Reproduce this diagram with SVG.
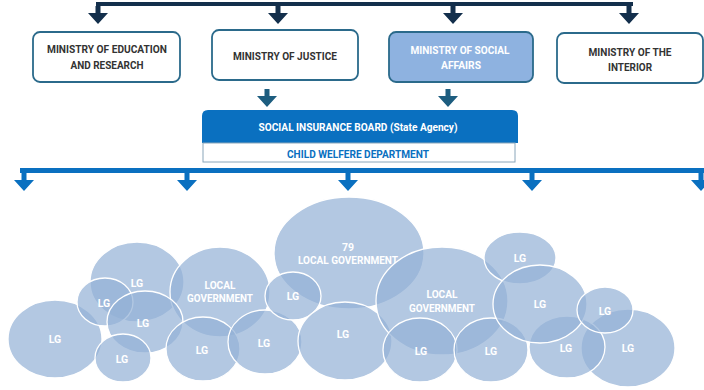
<svg xmlns="http://www.w3.org/2000/svg" width="704" height="390" viewBox="0 0 704 390">
<style>
.box{fill:#fff;stroke:#2b6a8b;stroke-width:1.8}
.boxf{fill:#8eb2e0;stroke:#2b6a8b;stroke-width:1.8}
.t{font-family:Roboto,"Liberation Sans",sans-serif;font-weight:bold;font-size:10.5px;text-anchor:middle;fill:#333}
.tw{fill:#fff}
.tb{fill:#0a70bf}
.lg{fill:#94b2d6;fill-opacity:0.71;stroke:#fff;stroke-width:1.3}
.navy{fill:#132f4c}
.teal{fill:#1d5d7f}
.blue{fill:#0a70c0}
</style>
<defs>
<path id="arr" d="M-2.5,0 H2.5 V7 H10 L0,18 L-10,7 H-2.5 Z"/>
</defs>
<g id="connectors">
<rect class="navy" x="96" y="2" width="537" height="4"/>
<use href="#arr" class="navy" x="98" y="6"/>
<use href="#arr" class="navy" x="278" y="6"/>
<use href="#arr" class="navy" x="453" y="6"/>
<use href="#arr" class="navy" x="629" y="6"/>
<use href="#arr" class="teal" x="267" y="89"/>
<use href="#arr" class="teal" x="448" y="89"/>
<rect class="blue" x="20" y="168" width="684" height="5"/>
<use href="#arr" class="blue" x="24" y="173"/>
<use href="#arr" class="blue" x="187" y="173"/>
<use href="#arr" class="blue" x="348" y="173"/>
<use href="#arr" class="blue" x="532" y="173"/>
<use href="#arr" class="blue" x="701" y="173"/>
</g>
<g id="ministry-education">
<rect class="box" x="33" y="32" width="147" height="50" rx="7"/>
<text class="t" x="107" y="53" textLength="120" lengthAdjust="spacingAndGlyphs">MINISTRY OF EDUCATION</text>
<text class="t" x="107" y="69" textLength="73" lengthAdjust="spacingAndGlyphs">AND RESEARCH</text>
</g>
<g id="ministry-justice">
<rect class="box" x="212" y="30" width="146" height="50" rx="7"/>
<text class="t" x="285" y="60" textLength="104" lengthAdjust="spacingAndGlyphs">MINISTRY OF JUSTICE</text>
</g>
<g id="ministry-social">
<rect class="boxf" x="389" y="32" width="144" height="50" rx="7"/>
<text class="t tw" x="460" y="54" textLength="99" lengthAdjust="spacingAndGlyphs">MINISTRY OF SOCIAL</text>
<text class="t tw" x="461" y="69" textLength="40" lengthAdjust="spacingAndGlyphs">AFFAIRS</text>
</g>
<g id="ministry-interior">
<rect class="box" x="557" y="33" width="146" height="50" rx="7"/>
<text class="t" x="630" y="56" textLength="83" lengthAdjust="spacingAndGlyphs">MINISTRY OF THE</text>
<text class="t" x="630" y="71" textLength="44" lengthAdjust="spacingAndGlyphs">INTERIOR</text>
</g>
<g id="social-insurance-board">
<path class="blue" d="M202,143 V116 Q202,110 208,110 H512 Q518,110 518,116 V143 Z"/>
<text class="t tw" x="358" y="131" textLength="199" lengthAdjust="spacingAndGlyphs">SOCIAL INSURANCE BOARD (State Agency)</text>
</g>
<g id="child-welfare">
<rect x="203" y="143" width="312" height="19" fill="#fff" stroke="#8aa6ba" stroke-width="1"/>
<text class="t tb" x="358" y="158" textLength="142" lengthAdjust="spacingAndGlyphs">CHILD WELFERE DEPARTMENT</text>
</g>
<g id="lg1"><ellipse class="lg" cx="55" cy="339" rx="47" ry="39"/><text class="t tw" x="55" y="343">LG</text></g>
<g id="lg2"><ellipse class="lg" cx="137" cy="282" rx="47" ry="40"/><text class="t tw" x="137" y="287">LG</text></g>
<g id="local-gov-1"><ellipse class="lg" cx="220" cy="292" rx="50" ry="45"/><text class="t tw" x="220" y="289" textLength="31" lengthAdjust="spacingAndGlyphs">LOCAL</text><text class="t tw" x="220" y="302" textLength="66" lengthAdjust="spacingAndGlyphs">GOVERNMENT</text></g>
<g id="local-gov-79"><ellipse class="lg" cx="349" cy="253" rx="75" ry="56"/><text class="t tw" x="348" y="251">79</text><text class="t tw" x="348" y="264" textLength="100" lengthAdjust="spacingAndGlyphs">LOCAL GOVERNMENT</text></g>
<g id="lg3"><ellipse class="lg" cx="105" cy="302" rx="28" ry="24"/><text class="t tw" x="104" y="307">LG</text></g>
<g id="lg4"><ellipse class="lg" cx="145" cy="322" rx="38" ry="31"/><text class="t tw" x="143" y="327">LG</text></g>
<g id="lg5"><ellipse class="lg" cx="123" cy="358" rx="28" ry="24"/><text class="t tw" x="122" y="363">LG</text></g>
<g id="lg6"><ellipse class="lg" cx="203" cy="349" rx="37" ry="32"/><text class="t tw" x="202" y="354">LG</text></g>
<g id="lg7"><ellipse class="lg" cx="265" cy="342" rx="37" ry="32"/><text class="t tw" x="264" y="347">LG</text></g>
<g id="lg8"><ellipse class="lg" cx="293" cy="296" rx="28" ry="24"/><text class="t tw" x="293" y="300">LG</text></g>
<g id="lg9"><ellipse class="lg" cx="345" cy="341" rx="47" ry="39"/><text class="t tw" x="343" y="338">LG</text></g>
<g id="local-gov-2"><ellipse class="lg" cx="442" cy="301" rx="66" ry="54"/><text class="t tw" x="442" y="298" textLength="31" lengthAdjust="spacingAndGlyphs">LOCAL</text><text class="t tw" x="442" y="312" textLength="66" lengthAdjust="spacingAndGlyphs">GOVERNMENT</text></g>
<g id="lg10"><ellipse class="lg" cx="420" cy="350" rx="37" ry="32"/><text class="t tw" x="421" y="355">LG</text></g>
<g id="lg11"><ellipse class="lg" cx="491" cy="350" rx="37" ry="32"/><text class="t tw" x="491" y="355">LG</text></g>
<g id="lg12"><ellipse class="lg" cx="628" cy="348" rx="47" ry="39"/><text class="t tw" x="628" y="352">LG</text></g>
<g id="lg13"><ellipse class="lg" cx="567" cy="347" rx="38" ry="31"/><text class="t tw" x="566" y="352">LG</text></g>
<g id="lg14"><ellipse class="lg" cx="520" cy="258" rx="36" ry="26"/><text class="t tw" x="520" y="262">LG</text></g>
<g id="lg15"><ellipse class="lg" cx="540" cy="304" rx="47" ry="39"/><text class="t tw" x="540" y="308">LG</text></g>
<g id="lg16"><ellipse class="lg" cx="605" cy="310" rx="28" ry="23"/><text class="t tw" x="605" y="315">LG</text></g>
</svg>
